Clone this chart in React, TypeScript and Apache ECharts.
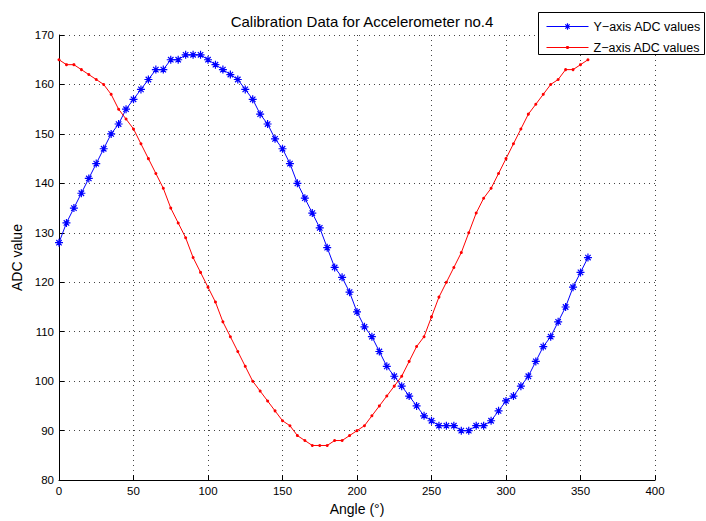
import React, { useEffect, useRef } from "react";
import * as echarts from "echarts";

const angles = [
  0, 5, 10, 15, 20, 25, 30, 35, 40, 45, 50, 55, 60, 65, 70, 75, 80, 85, 90, 95,
  100, 105, 110, 115, 120, 125, 130, 135, 140, 145, 150, 155, 160, 165, 170, 175, 180, 185, 190, 195,
  200, 205, 210, 215, 220, 225, 230, 235, 240, 245, 250, 255, 260, 265, 270, 275, 280, 285, 290, 295,
  300, 305, 310, 315, 320, 325, 330, 335, 340, 345, 350, 355,
];

const yAxisAdc = [
  128, 132, 135, 138, 141, 144, 147, 150, 152, 155, 157, 159, 161, 163, 163, 165, 165, 166, 166, 166,
  165, 164, 163, 162, 161, 159, 157, 154, 152, 149, 147, 144, 140, 137, 134, 131, 127, 123, 121, 118,
  114, 111, 109, 106, 103, 101, 99, 97, 95, 93, 92, 91, 91, 91, 90, 90, 91, 91, 92, 94,
  96, 97, 99, 101, 104, 107, 109, 112, 115, 119, 122, 125,
];

const zAxisAdc = [
  165, 164, 164, 163, 162, 161, 160, 158, 155, 153, 151, 148, 145, 142, 139, 135, 132, 129, 125, 122,
  119, 116, 112, 109, 106, 103, 100, 98, 96, 94, 92, 91, 89, 88, 87, 87, 87, 88, 88, 89,
  90, 91, 93, 95, 97, 99, 101, 104, 107, 109, 113, 117, 120, 123, 126, 130, 134, 137, 139, 142,
  145, 148, 151, 154, 156, 158, 160, 161, 163, 163, 164, 165,
];

const seriesNames = ["Y\u2212axis ADC values", "Z\u2212axis ADC values"];
const titleText = "Calibration Data for Accelerometer no.4";
const xAxisTitle = "Angle (\u00b0)";
const yAxisTitle = "ADC value";

const FONT = "'Liberation Sans', Arial, Helvetica, sans-serif";
const ASTERISK = "path://M5,0L5,10M0,5L10,5M1.6,1.6L8.4,8.4M1.6,8.4L8.4,1.6";

export default function App() {
  const ref = useRef<HTMLDivElement>(null);

  useEffect(() => {
    if (!ref.current) return;
    const chart = echarts.init(ref.current, undefined, { renderer: "svg" });
    const axisCommon = {
      axisLine: { show: true, lineStyle: { color: "#000", width: 1 } },
      axisTick: { show: true, inside: true, length: 5, lineStyle: { color: "#000" } },
      axisLabel: { color: "#000", fontFamily: FONT, fontSize: 11.5 },
      splitLine: { show: true, lineStyle: { color: "#444", type: [1, 4], width: 1 } },
      nameTextStyle: { color: "#000", fontFamily: FONT, fontSize: 14 },
    };
    chart.setOption({
      animation: false,
      backgroundColor: "#fff",
      title: {
        text: titleText,
        left: 357,
        textAlign: "center",
        top: 9,
        textStyle: { fontFamily: FONT, fontSize: 15, fontWeight: "normal", color: "#000" },
      },
      grid: { left: 59, top: 35, width: 596, height: 448, containLabel: false },
      xAxis: {
        type: "value",
        min: 0,
        max: 400,
        interval: 50,
        name: xAxisTitle,
        nameLocation: "middle",
        nameGap: 18,
        ...axisCommon,
        axisLabel: { ...axisCommon.axisLabel, margin: 5 },
      },
      yAxis: {
        type: "value",
        min: 80,
        max: 170,
        interval: 10,
        name: yAxisTitle,
        nameLocation: "middle",
        nameGap: 31,
        ...axisCommon,
        axisLabel: { ...axisCommon.axisLabel, margin: 5 },
      },
      graphic: [
        {
          type: "rect",
          z: 10,
          shape: { x: 538.5, y: 12.5, width: 166, height: 42 },
          style: { fill: "#fff", stroke: "#000", lineWidth: 1 },
        },
      ],
      legend: [
        {
          z: 11,
          left: 546,
          top: 20,
          padding: 0,
          itemWidth: 42,
          itemHeight: 8,
          data: [seriesNames[0]],
          lineStyle: { width: 1, color: "#0000ff" },
          itemStyle: { color: "none", borderColor: "#0000ff", borderWidth: 1.2 },
          textStyle: { fontFamily: FONT, fontSize: 12.5, color: "#000" },
        },
        {
          z: 11,
          left: 546,
          top: 41,
          padding: 0,
          itemWidth: 42,
          itemHeight: 4,
          data: [seriesNames[1]],
          lineStyle: { width: 1, color: "#ff0000" },
          itemStyle: { color: "#ff0000", borderWidth: 0 },
          textStyle: { fontFamily: FONT, fontSize: 12.5, color: "#000" },
        },
      ],
      series: [
        {
          name: seriesNames[0],
          type: "line",
          data: angles.map((a, i) => [a, yAxisAdc[i]]),
          symbol: ASTERISK,
          symbolSize: 8,
          showAllSymbol: true,
          lineStyle: { color: "#0000ff", width: 1 },
          itemStyle: { color: "#0000ff", borderColor: "#0000ff", borderWidth: 1.2 },
        },
        {
          name: seriesNames[1],
          type: "line",
          data: angles.map((a, i) => [a, zAxisAdc[i]]),
          symbol: "circle",
          symbolSize: 3,
          showAllSymbol: true,
          lineStyle: { color: "#ff0000", width: 1 },
          itemStyle: { color: "#ff0000", borderWidth: 0 },
        },
      ],
    });
    return () => chart.dispose();
  }, []);

  return (
    <div
      ref={ref}
      style={{ position: "absolute", left: 0, top: 0, width: 706, height: 521 }}
    />
  );
}
